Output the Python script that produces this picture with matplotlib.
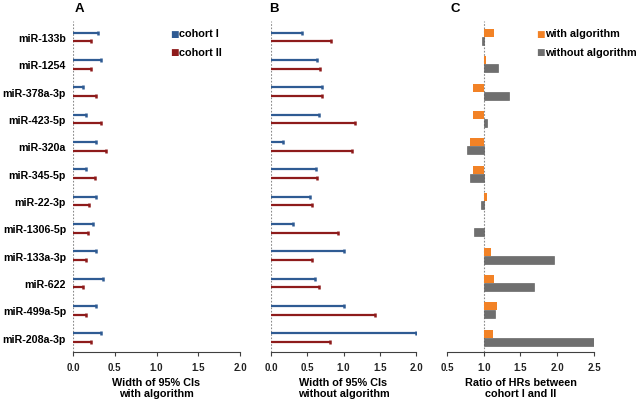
import matplotlib
matplotlib.use("Agg")
import matplotlib.pyplot as plt
import numpy as np

plt.rcParams['font.family'] = ['Liberation Sans', 'DejaVu Sans']

mirnas = ["miR-133b", "miR-1254", "miR-378a-3p", "miR-423-5p", "miR-320a",
          "miR-345-5p", "miR-22-3p", "miR-1306-5p", "miR-133a-3p", "miR-622",
          "miR-499a-5p", "miR-208a-3p"]

# Panel A: width of 95% CIs with algorithm
ci_with_c1 = [0.30, 0.34, 0.12, 0.15, 0.27, 0.16, 0.27, 0.24, 0.28, 0.36, 0.28, 0.34]
ci_with_c2 = [0.21, 0.22, 0.27, 0.33, 0.40, 0.26, 0.19, 0.18, 0.16, 0.12, 0.16, 0.22]

# Panel B: width of 95% CIs without algorithm
ci_without_c1 = [0.43, 0.63, 0.71, 0.66, 0.17, 0.62, 0.54, 0.31, 1.00, 0.60, 1.00, 2.00]
ci_without_c2 = [0.83, 0.68, 0.71, 1.16, 1.12, 0.63, 0.56, 0.92, 0.56, 0.66, 1.43, 0.82]

# Panel C: ratio of HRs between cohort I and II
ratio_with = [1.14, 1.03, 0.86, 0.86, 0.81, 0.85, 1.05, 1.00, 1.10, 1.14, 1.18, 1.13]
ratio_without = [0.97, 1.20, 1.35, 1.05, 0.77, 0.82, 0.96, 0.87, 1.96, 1.68, 1.15, 2.50]

x_ticks_ci = [0.0, 0.5, 1.0, 1.5, 2.0]
x_ticks_ratio = [0.5, 1.0, 1.5, 2.0, 2.5]

BLUE = "#2F5B93"
RED = "#8E1B1B"
ORANGE = "#F28226"
GREY = "#6F6F6F"

fig = plt.figure(figsize=(6.41, 4.02), dpi=100)
bottom, height = 0.122, 0.823
axA = fig.add_axes([0.1139, bottom, 0.2605, height])
axB = fig.add_axes([0.4228, bottom, 0.2262, height])
axC = fig.add_axes([0.6973, bottom, 0.2293, height])

y = np.arange(len(mirnas))
off = 0.157


def style(ax, xticks, xlim, ref, xlabel, letter, letter_x):
    ax.set_ylim(11.52, -0.58)
    ax.set_xlim(*xlim)
    for s in ["top", "right", "left"]:
        ax.spines[s].set_visible(False)
    ax.spines["bottom"].set_color("#404040")
    ax.spines["bottom"].set_linewidth(0.8)
    ax.axvline(ref, color="#8a8a8a", linestyle=(0, (1.5, 1.5)), linewidth=0.8, zorder=0)
    ax.set_xticks(xticks)
    ax.set_xticklabels([f"{t:.1f}" for t in xticks], fontsize=7.0, fontweight="bold", color="#222222")
    ax.tick_params(axis="x", direction="out", length=3, width=0.8, color="#404040", pad=4)
    ax.set_xlabel(xlabel, fontsize=7.8, fontweight="bold", labelpad=4, linespacing=1.1)
    ax.set_yticks([])
    fig.text(letter_x, 0.978, letter, fontsize=9.5, fontweight="bold", ha="center", va="center")


def ci_panel(ax, v1, v2):
    v1 = np.asarray(v1); v2 = np.asarray(v2)
    ax.hlines(y - off, 0, v1, color=BLUE, linewidth=1.6)
    ax.hlines(y + off, 0, v2, color=RED, linewidth=1.6)
    ax.plot(v1, y - off, linestyle="none", marker="|", color=BLUE, markersize=3.5, mew=1.8)
    ax.plot(v2, y + off, linestyle="none", marker="|", color=RED, markersize=3.5, mew=1.8)


ci_panel(axA, ci_with_c1, ci_with_c2)
style(axA, x_ticks_ci, (0, 2.0), 0, "Width of 95% CIs\nwith algorithm", "A", 79 / 641)
axA.set_yticks(y)
axA.set_yticklabels(mirnas, fontsize=7.7, fontweight="bold")
axA.tick_params(axis="y", length=0, pad=5)

ci_panel(axB, ci_without_c1, ci_without_c2)
style(axB, x_ticks_ci, (0, 2.0), 0, "Width of 95% CIs\nwithout algorithm", "B", 274 / 641)

rw = np.asarray(ratio_with); ro = np.asarray(ratio_without)
bh = 0.29
axC.barh(y - 0.145, rw - 1.0, left=1.0, height=bh, color=ORANGE)
axC.barh(y + 0.145, ro - 1.0, left=1.0, height=bh, color=GREY, edgecolor="#555555", linewidth=0.4)
style(axC, x_ticks_ratio, (0.5, 2.5), 1.0, "Ratio of HRs between\ncohort I and II", "C", 455 / 641)

# Legends
def legend_item(x, yy, color, label):
    fig.text(x, yy, "\u25A0", color=color, fontsize=6.5, ha="left", va="center",
             family="DejaVu Sans")
    fig.text(x + 0.0145, yy, label, fontsize=7.8, fontweight="bold", ha="left", va="center")

legend_item(170 / 641, 1 - 34 / 402, BLUE, "cohort I")
legend_item(170 / 641, 1 - 53 / 402, RED, "cohort II")
legend_item(536 / 641, 1 - 34 / 402, ORANGE, "with algorithm")
legend_item(536 / 641, 1 - 53 / 402, GREY, "without algorithm")

fig.savefig("out.png", dpi=100)
